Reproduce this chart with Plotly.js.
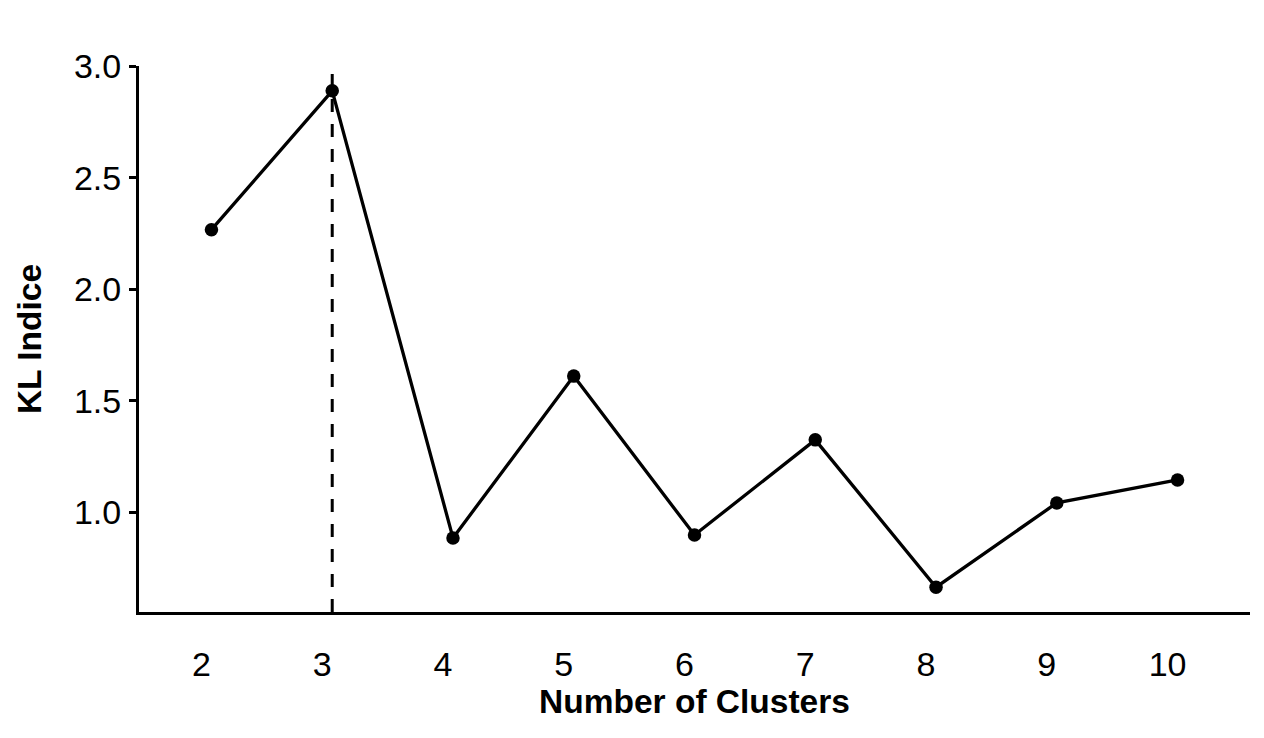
<!DOCTYPE html>
<html>
<head>
<meta charset="utf-8">
<script src="https://cdn.plot.ly/plotly-3.0.1.min.js"></script>
<style>
  html, body { margin: 0; padding: 0; background: #ffffff; }
  #chart { width: 1264px; height: 738px; }
</style>
</head>
<body>
<div id="chart"></div>
<script>
// Data
const clusters = [2, 3, 4, 5, 6, 7, 8, 9, 10];
const klIndex = [2.268, 2.891, 0.885, 1.611, 0.898, 1.325, 0.664, 1.042, 1.145];
const xTickLabels = ["2", "3", "4", "5", "6", "7", "8", "9", "10"];
const yTickVals = [1.0, 1.5, 2.0, 2.5, 3.0];
const yTickText = ["1.0", "1.5", "2.0", "2.5", "3.0"];

// best k = argmax of KL index
let bestIdx = 0;
klIndex.forEach((v, i) => { if (v > klIndex[bestIdx]) bestIdx = i; });
const bestK = clusters[bestIdx];

const yMin = Math.min(...klIndex), yMax = Math.max(...klIndex);
const yPad = 0.05 * (yMax - yMin);

const FONT = "Liberation Sans, Arial, Helvetica, sans-serif";

const trace = {
  x: clusters,
  y: klIndex,
  type: "scatter",
  mode: "lines+markers",
  line: { color: "#000000", width: 3.3 },
  marker: { color: "#000000", size: 13.5 },
  hoverinfo: "x+y",
  showlegend: false
};

const layout = {
  width: 1264,
  height: 738,
  margin: { l: 139, r: 14, t: 66, b: 126 },
  paper_bgcolor: "#ffffff",
  plot_bgcolor: "#ffffff",
  font: { family: FONT, color: "#000000" },
  showlegend: false,
  xaxis: {
    range: [clusters[0] - 0.6, clusters[clusters.length - 1] + 0.6],
    tickmode: "array",
    tickvals: clusters,
    ticktext: xTickLabels,
    ticks: "",
    showgrid: false,
    zeroline: false,
    showline: true,
    linecolor: "#000000",
    linewidth: 3,
    tickfont: { family: FONT, size: 34, color: "#000000" },
    ticklabelshift: -10,
    ticklabelstandoff: 20,
    title: {
      text: "<b>Number of Clusters</b>",
      font: { family: FONT, size: 33.5, color: "#000000" },
      standoff: 6
    },
    fixedrange: true
  },
  yaxis: {
    range: [yMin - yPad, yMax + yPad],
    tickmode: "array",
    tickvals: yTickVals,
    ticktext: yTickText,
    ticks: "outside",
    ticklen: 7,
    tickwidth: 3,
    tickcolor: "#000000",
    showgrid: false,
    zeroline: false,
    showline: true,
    linecolor: "#000000",
    linewidth: 3,
    tickfont: { family: FONT, size: 34, color: "#000000" },
    ticklabelstandoff: 1,
    title: {
      text: "<b>KL Indice</b>",
      font: { family: FONT, size: 33.5, color: "#000000" },
      standoff: 23
    },
    fixedrange: true
  },
  shapes: [{
    type: "line",
    xref: "x",
    yref: "paper",
    x0: bestK, x1: bestK,
    y0: 0, y1: 1,
    line: { color: "#000000", width: 3, dash: "13px,12px" },
    layer: "below"
  }]
};

Plotly.newPlot("chart", [trace], layout, { displayModeBar: false, staticPlot: true });
</script>
</body>
</html>
